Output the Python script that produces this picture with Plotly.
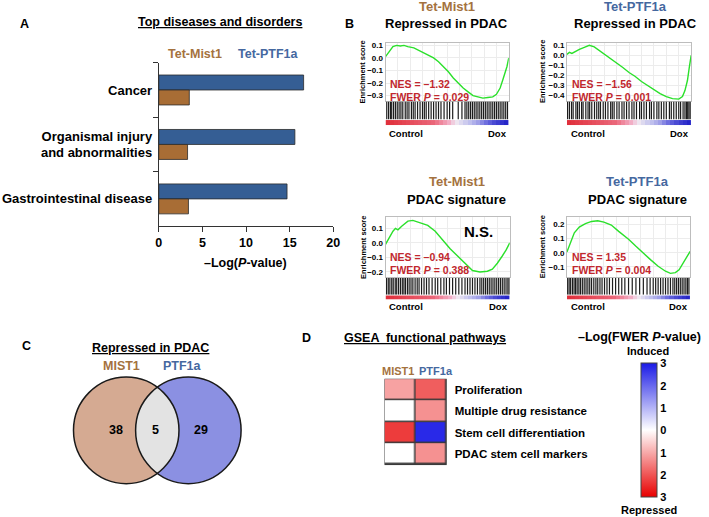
import numpy as np
import plotly.graph_objects as go

W, H = 709, 517
FONT = "Liberation Sans, Arial, Helvetica, sans-serif"
BLUE_BAR = "#355E94"
BROWN_BAR = "#A86D35"
BROWN_T = "#A4723E"
BLUE_T = "#45689F"
NES_RED = "#C1272D"
GREEN = "#2BE02B"

# ---------------- Panel A data ----------------
diseases = ["Cancer", "Organismal injury<br>and abnormalities", "Gastrointestinal disease"]
ptf1a_logp = [16.6, 15.6, 14.7]
mist1_logp = [3.5, 3.3, 3.4]
a_xticks = [0, 5, 10, 15, 20]

# ---------------- Panel B data ----------------
es_rank_mist1_rep = [0, 0.02, 0.04, 0.06, 0.09, 0.12, 0.15, 0.18, 0.23, 0.27, 0.31, 0.35, 0.39, 0.43,
                     0.47, 0.51, 0.55, 0.59, 0.63, 0.67, 0.71, 0.75, 0.79, 0.83, 0.87, 0.9, 0.93, 0.95,
                     0.97, 0.985, 1.0]
es_mist1_rep = [0.01, 0.04, 0.06, 0.09, 0.10, 0.095, 0.10, 0.09, 0.08, 0.06, 0.04, 0.02, 0.0, -0.03,
                -0.07, -0.11, -0.16, -0.20, -0.24, -0.27, -0.30, -0.31, -0.32, -0.315, -0.31, -0.29,
                -0.24, -0.18, -0.12, -0.07, 0.0]

es_rank_ptf1a_rep = [0, 0.02, 0.04, 0.06, 0.1, 0.14, 0.18, 0.22, 0.26, 0.3, 0.35, 0.4, 0.45, 0.5, 0.55,
                     0.6, 0.65, 0.7, 0.75, 0.8, 0.85, 0.9, 0.93, 0.95, 0.97, 0.985, 1.0]
es_ptf1a_rep = [0.01, 0.03, 0.02, 0.035, 0.06, 0.08, 0.10, 0.085, 0.05, 0.01, -0.03, -0.07, -0.12,
                -0.17, -0.21, -0.26, -0.30, -0.34, -0.38, -0.41, -0.43, -0.435, -0.41, -0.35, -0.25,
                -0.12, 0.0]

es_rank_mist1_sig = [0, 0.03, 0.06, 0.08, 0.1, 0.13, 0.18, 0.22, 0.28, 0.34, 0.4, 0.46, 0.52, 0.58,
                     0.64, 0.7, 0.76, 0.82, 0.86, 0.9, 0.94, 0.97, 1.0]
es_mist1_sig = [-0.01, 0.04, 0.08, 0.10, 0.09, 0.115, 0.15, 0.155, 0.14, 0.12, 0.08, 0.02, -0.04,
                -0.09, -0.14, -0.19, -0.20, -0.195, -0.18, -0.14, -0.09, -0.05, 0.0]

es_rank_ptf1a_sig = [0, 0.03, 0.06, 0.1, 0.15, 0.2, 0.25, 0.3, 0.36, 0.42, 0.5, 0.56, 0.62, 0.68,
                     0.74, 0.8, 0.84, 0.88, 0.91, 0.93, 0.95, 0.98, 1.0]
es_ptf1a_sig = [0.005, 0.08, 0.14, 0.18, 0.205, 0.22, 0.225, 0.215, 0.195, 0.15, 0.095, 0.045,
                -0.005, -0.05, -0.095, -0.13, -0.145, -0.14, -0.12, -0.09, -0.07, -0.02, 0.01]

hits_mist1_rep = [0.01, 0.025, 0.04, 0.05, 0.065, 0.08, 0.095, 0.11, 0.125, 0.14, 0.16, 0.175, 0.19,
                  0.21, 0.225, 0.24, 0.26, 0.28, 0.30, 0.315, 0.33, 0.35, 0.37, 0.39, 0.41, 0.43,
                  0.45, 0.475, 0.50, 0.52, 0.545, 0.59, 0.62, 0.645, 0.66, 0.675, 0.69, 0.705, 0.72,
                  0.735, 0.75, 0.765, 0.78, 0.795, 0.81, 0.825, 0.84, 0.855, 0.87, 0.885, 0.90,
                  0.915, 0.93, 0.945, 0.96, 0.975, 0.99]
hits_ptf1a_rep = [0.005, 0.02, 0.037, 0.05, 0.072, 0.085, 0.10, 0.118, 0.13, 0.152, 0.17, 0.183,
                  0.20, 0.222, 0.24, 0.256, 0.27, 0.292, 0.31, 0.33, 0.352, 0.365, 0.38, 0.402, 0.42,
                  0.443, 0.46, 0.48, 0.50, 0.523, 0.54, 0.56, 0.585, 0.60, 0.62, 0.64, 0.665, 0.68,
                  0.70, 0.724, 0.74, 0.76, 0.78, 0.80, 0.825, 0.84, 0.86, 0.88, 0.90, 0.915, 0.935,
                  0.95, 0.962, 0.972, 0.982, 0.992]
hits_mist1_sig = [0.008, 0.022, 0.035, 0.05, 0.062, 0.078, 0.09, 0.105, 0.12, 0.135, 0.148, 0.16,
                  0.176, 0.19, 0.205, 0.22, 0.238, 0.255, 0.27, 0.29, 0.31, 0.33, 0.35, 0.375, 0.40,
                  0.42, 0.445, 0.47, 0.49, 0.515, 0.54, 0.565, 0.59, 0.615, 0.64, 0.66, 0.68, 0.70,
                  0.72, 0.74, 0.76, 0.775, 0.79, 0.805, 0.82, 0.835, 0.85, 0.865, 0.88, 0.895, 0.91,
                  0.925, 0.94, 0.955, 0.97, 0.985, 0.995]
hits_ptf1a_sig = [0.006, 0.018, 0.03, 0.045, 0.058, 0.07, 0.083, 0.097, 0.11, 0.125, 0.14, 0.155,
                  0.17, 0.185, 0.2, 0.218, 0.235, 0.25, 0.268, 0.285, 0.305, 0.325, 0.345, 0.37,
                  0.395, 0.42, 0.445, 0.47, 0.5, 0.53, 0.56, 0.59, 0.62, 0.65, 0.675, 0.7, 0.72,
                  0.74, 0.76, 0.78, 0.8, 0.82, 0.84, 0.86, 0.875, 0.89, 0.905, 0.92, 0.935, 0.95,
                  0.965, 0.978, 0.99]

rank_metric = [3.0, 2.9, 2.8, 2.7, 2.6, 2.5, 2.4, 2.3, 2.2, 2.1, 2.0, 1.9, 1.6, 1.3, 1.0, 0.7,
               0.3, 0.0, -0.3, -0.6, -0.8, -1.0, -1.2, -1.5, -1.8, -2.1, -2.4, -2.6, -2.8, -3.0]

gsea_strains = ["Tet-Mist1", "Tet-PTF1a", "Tet-Mist1", "Tet-PTF1a"]
gsea_sets = ["Repressed in PDAC", "Repressed in PDAC", "PDAC signature", "PDAC signature"]
nes_values = ["–1.32", "–1.56", "–0.94", "1.35"]
fwer_p = ["0.029", "0.001", "0.388", "0.004"]

# ---------------- Panel C data ----------------
venn_sets = ["MIST1", "PTF1a"]
venn_counts = [38, 5, 29]

# ---------------- Panel D data ----------------
pathways = ["Proliferation", "Multiple drug resistance", "Stem cell differentiation",
            "PDAC stem cell markers"]
d_columns = ["MIST1", "PTF1a"]
pathway_scores = [[-1.1, -1.9],
                  [0.0, -1.3],
                  [-2.3, 2.8],
                  [0.0, -1.3]]
cbar_vals = [-3, -2, -1, 0, 1, 2, 3]
cbar_text = ["3", "2", "1", "0", "1", "2", "3"]


def xd(a, b):
    return [a / W, b / W]


def yd(a, b):
    return [1 - b / H, 1 - a / H]


def names(n):
    return ("xaxis" if n == 1 else f"xaxis{n}"), ("yaxis" if n == 1 else f"yaxis{n}")


def refs(n):
    return ("x" if n == 1 else f"x{n}"), ("y" if n == 1 else f"y{n}")


annotations = []
shapes = []


def ann(text, x, y, size, color="black", xanchor="center", yanchor="middle", angle=0, bold=True):
    annotations.append(dict(text=text, x=x / W, y=1 - y / H, xref="paper", yref="paper",
                            showarrow=False, xanchor=xanchor, yanchor=yanchor, textangle=angle,
                            font=dict(family=FONT, size=size, color=color,
                                      weight="bold" if bold else "normal")))


fig = go.Figure()
layout = dict(width=W, height=H, margin=dict(l=0, r=0, t=0, b=0), paper_bgcolor="white",
              plot_bgcolor="white", showlegend=False, font=dict(family=FONT, color="black"),
              barmode="group", bargap=0.45, bargroupgap=0)

hidden = dict(visible=False, showgrid=False, zeroline=False)

# ---------------- Panel A ----------------
fig.add_trace(go.Bar(y=diseases, x=ptf1a_logp, orientation="h", xaxis="x", yaxis="y",
                     marker=dict(color=BLUE_BAR, line=dict(color="#2a2a2a", width=0.8))))
fig.add_trace(go.Bar(y=diseases, x=mist1_logp, orientation="h", xaxis="x", yaxis="y",
                     marker=dict(color=BROWN_BAR, line=dict(color="#2a2a2a", width=0.8))))
layout["xaxis"] = dict(domain=xd(158, 335), range=[0, 20], tickvals=a_xticks, ticks="outside",
                       ticklen=5, tickcolor="#333", showline=True, linecolor="#333", linewidth=1,
                       showgrid=False, zeroline=False, anchor="y",
                       tickfont=dict(family=FONT, size=12.5, weight="bold"))
layout["yaxis"] = dict(domain=yd(61, 225), type="category", categoryarray=diseases,
                       autorange="reversed", tickson="boundaries", ticks="outside", ticklen=5,
                       tickcolor="#333", showline=True, linecolor="#333", linewidth=1,
                       showgrid=False, zeroline=False, anchor="x", ticklabelstandoff=3,
                       tickfont=dict(family=FONT, size=13, weight="bold"))
ann("A", 22, 22, 12.5)
ann("<u>Top diseases and disorders</u>", 220, 20, 12.5)
ann("Tet-Mist1", 195, 52, 12.5, BROWN_T)
ann("Tet-PTF1a", 269, 52, 12.5, BLUE_T)
ann("–Log(<i>P</i>-value)", 246, 262, 12.5)

# ---------------- Panel B ----------------
ann("B", 351, 22, 12.5)
gsea_layout = [
    dict(x0=388, x1=513, t0=41, t1=99, b1=118, s1=124, yr=[-0.34, 0.12],
         tv=[-0.3, -0.2, -0.1, 0.0, 0.1], cx=450, sy=5, ty=22, lab=365, cy=132, nes_y=82),
    dict(x0=572, x1=698, t0=41, t1=99, b1=118, s1=124, yr=[-0.45, 0.125],
         tv=[-0.4, -0.3, -0.2, -0.1, 0.0, 0.1], cx=642, sy=5, ty=22, lab=547, cy=132, nes_y=82),
    dict(x0=388, x1=514, t0=216, t1=276, b1=294, s1=299, yr=[-0.234, 0.177],
         tv=[-0.2, -0.1, 0.0, 0.1], cx=460, sy=180, ty=198, lab=365, cy=306, nes_y=256),
    dict(x0=572, x1=697, t0=216, t1=276, b1=294, s1=299, yr=[-0.17, 0.25],
         tv=[-0.1, 0.0, 0.1, 0.2], cx=644, sy=180, ty=198, lab=547, cy=306, nes_y=256),
]
es_ranks = [es_rank_mist1_rep, es_rank_ptf1a_rep, es_rank_mist1_sig, es_rank_ptf1a_sig]
es_scores = [es_mist1_rep, es_ptf1a_rep, es_mist1_sig, es_ptf1a_sig]
hit_sets = [hits_mist1_rep, hits_ptf1a_rep, hits_mist1_sig, hits_ptf1a_sig]
strip_scale = [[0, "#2525C8"], [0.2, "#6E6EDE"], [0.38, "#C6C6EE"], [0.5, "#EEE6F0"],
               [0.6, "#F2B4CC"], [0.75, "#EE7A8E"], [1, "#E0303C"]]

for i, g in enumerate(gsea_layout):
    n_es, n_bc, n_st = 2 + 3 * i, 3 + 3 * i, 4 + 3 * i
    xa, ya = names(n_es)
    xr, yr_ = refs(n_es)
    layout[xa] = dict(domain=xd(g["x0"], g["x1"]), range=[0, 1], dtick=0.1, showgrid=True,
                      gridcolor="#ECECEC", showticklabels=False, ticks="", showline=True,
                      mirror=True, linecolor="#BDBDBD", linewidth=1, zeroline=False, anchor=yr_)
    layout[ya] = dict(domain=yd(g["t0"], g["t1"]), range=g["yr"], tickvals=g["tv"],
                      tickformat=".1f", showgrid=True, gridcolor="#ECECEC", showline=True,
                      mirror=True, linecolor="#BDBDBD", linewidth=1, zeroline=False, ticks="",
                      anchor=xr, tickfont=dict(family=FONT, size=8, weight="bold"))
    fig.add_trace(go.Scatter(x=es_ranks[i], y=es_scores[i], mode="lines", xaxis=xr, yaxis=yr_,
                             line=dict(color=GREEN, width=1.4)))
    # barcode
    xa, ya = names(n_bc)
    xr, yr_ = refs(n_bc)
    layout[xa] = dict(domain=xd(g["x0"], g["x1"]), range=[0, 1], anchor=yr_, **hidden)
    layout[ya] = dict(domain=yd(g["t1"] + 1, g["b1"]), range=[0, 1], anchor=xr, **hidden)
    bx, by = [], []
    for h in hit_sets[i]:
        bx += [h, h, None]
        by += [0, 1, None]
    fig.add_trace(go.Scatter(x=bx, y=by, mode="lines", xaxis=xr, yaxis=yr_,
                             line=dict(color="#1c1c1c", width=1.2)))
    # colour strip
    xa, ya = names(n_st)
    xr, yr_ = refs(n_st)
    layout[xa] = dict(domain=xd(g["x0"], g["x1"]), range=[-0.5, len(rank_metric) - 0.5],
                      anchor=yr_, **hidden)
    layout[ya] = dict(domain=yd(g["b1"] + 0.5, g["s1"]), range=[-0.5, 0.5], anchor=xr, **hidden)
    fig.add_trace(go.Heatmap(z=[rank_metric], xaxis=xr, yaxis=yr_, colorscale=strip_scale,
                             zmin=-3, zmax=3, showscale=False, hoverinfo="skip"))
    # texts
    ann(gsea_strains[i], g["cx"], g["sy"], 13, BROWN_T if i % 2 == 0 else BLUE_T)
    ann(gsea_sets[i], g["cx"], g["ty"], 13)
    ann("Enrichment score", g["lab"], (g["t0"] + g["t1"]) / 2, 7.5, angle=-90)
    ann(f"NES = {nes_values[i]}", g["x0"] + 3, g["nes_y"], 10.5, NES_RED, xanchor="left")
    ann(f"FWER <i>P</i> = {fwer_p[i]}", g["x0"] + 3, g["nes_y"] + 13, 10.5, NES_RED,
        xanchor="left")
    ann("Control", g["x0"] + 2, g["cy"], 9.5, xanchor="left")
    ann("Dox", g["x1"], g["cy"], 9.5, xanchor="right")
ann("N.S.", 482, 230, 15)

# ---------------- Panel C (Venn) ----------------
n_v = 14
xa, ya = names(n_v)
xr, yr_ = refs(n_v)
layout[xa] = dict(domain=xd(60, 250), range=[60, 250], anchor=yr_, **hidden)
layout[ya] = dict(domain=yd(370, 490), range=[490, 370], anchor=xr, **hidden)
r = 53.5
cy = 430
cxl, cxr = 125, 188
shapes.append(dict(type="circle", xref=xr, yref=yr_, x0=cxl - r, x1=cxl + r, y0=cy - r,
                   y1=cy + r, fillcolor="#D5AA92", line=dict(width=0), layer="above"))
shapes.append(dict(type="circle", xref=xr, yref=yr_, x0=cxr - r, x1=cxr + r, y0=cy - r,
                   y1=cy + r, fillcolor="#8B90E2", line=dict(width=0), layer="above"))
a = (cxr - cxl) / 2
th = np.arccos(a / r)
t1 = np.linspace(-th, th, 40)
t2 = np.linspace(np.pi - th, np.pi + th, 40)
pts = [(cxl + r * np.cos(t), cy + r * np.sin(t)) for t in t1]
pts += [(cxr + r * np.cos(t), cy + r * np.sin(t)) for t in t2]
path = "M " + " L ".join(f"{px:.2f},{py:.2f}" for px, py in pts) + " Z"
shapes.append(dict(type="path", xref=xr, yref=yr_, path=path, fillcolor="#E3E3E3",
                   line=dict(width=0), layer="above"))
for cx in (cxl, cxr):
    shapes.append(dict(type="circle", xref=xr, yref=yr_, x0=cx - r, x1=cx + r, y0=cy - r,
                       y1=cy + r, line=dict(color="#1a1a1a", width=1.5), layer="above"))
for txt, px in zip(venn_counts, [115, 155, 201]):
    annotations.append(dict(text=str(txt), x=px, y=cy, xref=xr, yref=yr_, showarrow=False,
                            font=dict(family=FONT, size=12.5, weight="bold", color="black")))
ann("C", 24, 345, 12.5)
ann("<u>Repressed in PDAC</u>", 150, 347, 12.5)
ann(venn_sets[0], 120, 365, 12.5, BROWN_T)
ann(venn_sets[1], 182, 365, 12.5, BLUE_T)

# ---------------- Panel D (heatmap) ----------------
n_h = 15
xa, ya = names(n_h)
xr, yr_ = refs(n_h)
layout[xa] = dict(domain=xd(387, 450), range=[-0.5, 1.5], anchor=yr_, type="category",
                  showticklabels=False, showgrid=False, zeroline=False, ticks="")
layout[ya] = dict(domain=yd(378, 465), type="category", categoryarray=pathways,
                  autorange="reversed", side="right", showgrid=False, zeroline=False, ticks="",
                  anchor=xr, ticklabelstandoff=7,
                  tickfont=dict(family=FONT, size=11.5, weight="bold"))
shapes.append(dict(type="rect", xref=xr, yref=yr_, x0=-0.5, x1=1.5, y0=-0.5, y1=3.5,
                   fillcolor="#3a3a3a", line=dict(color="#3a3a3a", width=1.2), layer="below"))
fig.add_trace(go.Heatmap(z=pathway_scores, x=d_columns, y=pathways, xaxis=xr, yaxis=yr_,
                         colorscale=[[0, "#E80000"], [0.5, "#FFFFFF"], [1, "#1A1AE6"]],
                         zmin=-3, zmax=3, xgap=1.5, ygap=1.5, hoverinfo="skip",
                         colorbar=dict(x=647 / W, xanchor="left", xpad=0, ypad=0,
                                       y=1 - 430 / H, yanchor="middle", len=134,
                                       lenmode="pixels", thickness=16,
                                       thicknessmode="pixels", outlinewidth=1,
                                       outlinecolor="#444", tickvals=cbar_vals,
                                       ticktext=cbar_text, ticks="",
                                       tickfont=dict(family=FONT, size=11, weight="bold"))))
ann("D", 308, 337, 12.5)
ann("<u>GSEA  functional pathways</u>", 428, 337, 12.5)
ann(d_columns[0], 401, 370, 11, BROWN_T)
ann(d_columns[1], 439, 370, 11, BLUE_T)
ann("–Log(FWER <i>P</i>-value)", 646, 336, 12.5)
ann("Induced", 654, 350, 11)
ann("Repressed", 655, 510, 11)

layout["annotations"] = annotations
layout["shapes"] = shapes
fig.update_layout(**layout)
fig.write_html("out.html", config={"displayModeBar": False},
               post_script="document.body.style.margin='0px';document.body.style.padding='0px';")
